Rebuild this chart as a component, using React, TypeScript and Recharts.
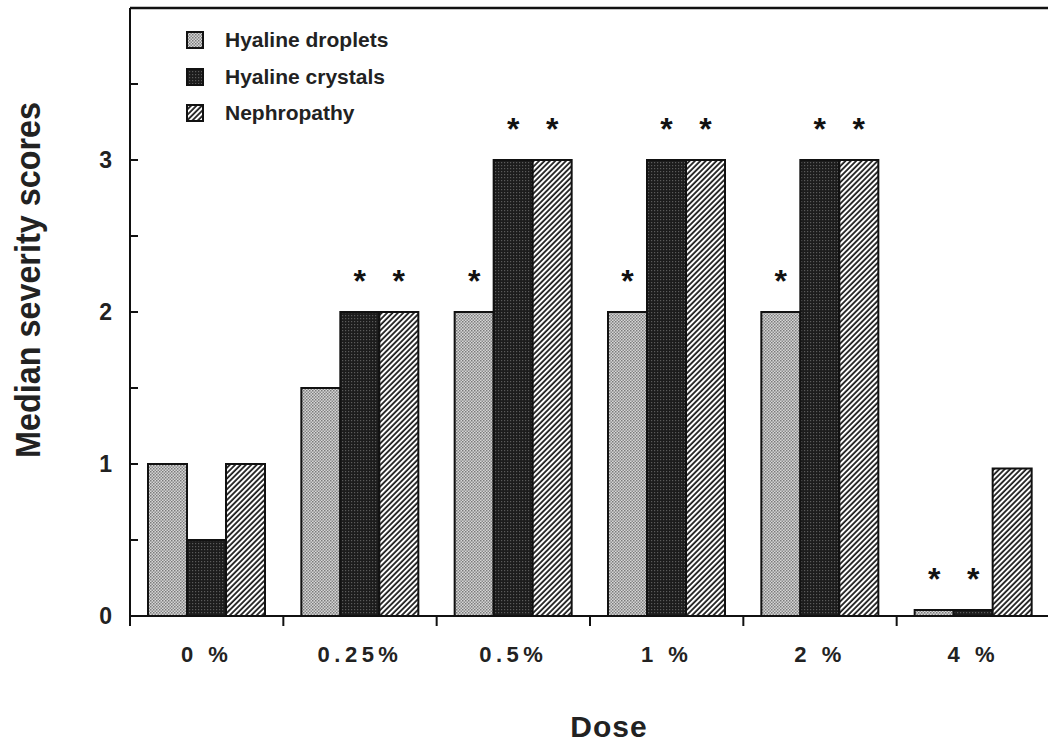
import React from "react";
import {
  Bar,
  BarChart,
  LabelList,
  ReferenceLine,
  XAxis,
  YAxis,
} from "recharts";

const doses = ["0 %", "0.25%", "0.5%", "1 %", "2 %", "4 %"];
const droplets = [1, 1.5, 2, 2, 2, 0.04];
const crystals = [0.5, 2, 3, 3, 3, 0.04];
const nephropathy = [1, 2, 3, 3, 3, 0.97];
const dropletsSig = [false, false, true, true, true, true];
const crystalsSig = [false, true, true, true, true, true];
const nephropathySig = [false, true, true, true, true, false];
const yTicks = [0, 0.5, 1, 1.5, 2, 2.5, 3, 3.5];

const series = [
  { key: "droplets", name: "Hyaline droplets", fill: "url(#pDroplets)", sig: "dropletsSig" },
  { key: "crystals", name: "Hyaline crystals", fill: "url(#pCrystals)", sig: "crystalsSig" },
  { key: "nephropathy", name: "Nephropathy", fill: "url(#pNephro)", sig: "nephropathySig" },
];

const data = doses.map((dose, i) => ({
  dose,
  droplets: droplets[i],
  crystals: crystals[i],
  nephropathy: nephropathy[i],
  dropletsSig: dropletsSig[i],
  crystalsSig: crystalsSig[i],
  nephropathySig: nephropathySig[i],
}));

const FONT = "'Liberation Sans', Arial, Helvetica, sans-serif";

function Star(props: any) {
  const { x, y, width, value } = props;
  if (!value) return null;
  return (
    <text
      x={x + width / 2}
      y={y - 20}
      textAnchor="middle"
      fontFamily={FONT}
      fontWeight="bold"
      fontSize={32}
      fill="#111"
    >
      *
    </text>
  );
}

function XTick(props: any) {
  const { x, y, payload, index, visibleTicksCount } = props;
  const half = payload.offset || 0;
  return (
    <g>
      <line x1={x - half} x2={x - half} y1={y - 8} y2={y + 2} stroke="#111" strokeWidth={2} />
      {index === visibleTicksCount - 1 && (
        <line x1={x + half} x2={x + half} y1={y - 8} y2={y + 2} stroke="#111" strokeWidth={2} />
      )}
      <text
        x={x}
        y={y + 38}
        textAnchor="middle"
        fontFamily={FONT}
        fontWeight="bold"
        fontSize={22}
        letterSpacing={4.5}
        fill="#222"
      >
        {payload.value}
      </text>
    </g>
  );
}

function YTick(props: any) {
  const { x, y, payload } = props;
  const major = Number.isInteger(payload.value);
  return (
    <g>
      <line x1={x + 2} x2={x + 10} y1={y} y2={y} stroke="#111" strokeWidth={2} />
      {major && (
        <text
          x={x - 16}
          y={y + 8}
          textAnchor="end"
          fontFamily={FONT}
          fontWeight="bold"
          fontSize={23}
          fill="#222"
        >
          {payload.value}
        </text>
      )}
    </g>
  );
}

function LegendBox() {
  return (
    <div
      style={{
        position: "absolute",
        left: 186,
        top: 22,
        fontFamily: FONT,
        fontWeight: "bold",
        fontSize: 21,
        color: "#222",
      }}
    >
      {series.map((s) => (
        <div key={s.key} style={{ display: "flex", alignItems: "center", height: 36.5 }}>
          <svg width={18} height={18} style={{ marginRight: 21 }}>
            <rect x={1} y={1} width={16} height={16} fill={s.fill} stroke="#111" strokeWidth={2} />
          </svg>
          <span>{s.name}</span>
        </div>
      ))}
    </div>
  );
}

export default function App() {
  return (
    <div
      style={{
        position: "fixed",
        left: 0,
        top: 0,
        width: 1048,
        height: 742,
        overflow: "hidden",
        background: "#fff",
      }}
    >
      <BarChart
        width={1060}
        height={742}
        data={data}
        margin={{ top: 8, right: 10, left: 70, bottom: 0 }}
        barGap={0}
      >
        <defs>
          <pattern id="pDroplets" width={3} height={3} patternUnits="userSpaceOnUse">
            <rect width={3} height={3} fill="#d6d6d6" />
            <rect width={1.5} height={1.5} fill="#7a7a7a" />
            <rect x={1.5} y={1.5} width={1.5} height={1.5} fill="#8a8a8a" />
          </pattern>
          <pattern id="pCrystals" width={3} height={3} patternUnits="userSpaceOnUse">
            <rect width={3} height={3} fill="#1c1c1c" />
            <rect width={1.2} height={1.2} fill="#5a5a5a" />
          </pattern>
          <pattern
            id="pNephro"
            width={3.8}
            height={3.8}
            patternUnits="userSpaceOnUse"
            patternTransform="rotate(45)"
          >
            <rect width={3.8} height={3.8} fill="#fff" />
            <line x1={1} x2={1} y1={0} y2={3.8} stroke="#111" strokeWidth={1.7} />
          </pattern>
        </defs>
        <XAxis
          dataKey="dose"
          height={126}
          axisLine={{ stroke: "#111", strokeWidth: 2 }}
          tickLine={false}
          tick={<XTick />}
          interval={0}
          label={{
            content: (p: any) => {
              const vb = p.viewBox;
              return (
                <text
                  x={vb.x + vb.width / 2 + 19}
                  y={vb.y + vb.height - 5}
                  textAnchor="middle"
                  fontFamily={FONT}
                  fontWeight="bold"
                  fontSize={30}
                  letterSpacing={1}
                  fill="#222"
                >
                  Dose
                </text>
              );
            },
          }}
        />
        <YAxis
          width={60}
          domain={[0, 4]}
          ticks={yTicks}
          interval={0}
          axisLine={{ stroke: "#111", strokeWidth: 2 }}
          tickLine={false}
          tick={<YTick />}
          tickSize={0}
          label={{
            content: (p: any) => {
              const vb = p.viewBox;
              const cx = vb.x - 30;
              const cy = vb.y + vb.height / 2 - 32;
              return (
                <text
                  x={cx}
                  y={cy}
                  transform={`rotate(-90, ${cx}, ${cy})`}
                  textAnchor="middle"
                  fontFamily={FONT}
                  fontWeight="bold"
                  fontSize={35}
                  textLength={356}
                  lengthAdjust="spacingAndGlyphs"
                  fill="#222"
                >
                  Median severity scores
                </text>
              );
            },
          }}
        />
        <ReferenceLine y={4} stroke="#111" strokeWidth={2.5} />
        {series.map((s) => (
          <Bar
            key={s.key}
            dataKey={s.key}
            name={s.name}
            fill={s.fill}
            stroke="#111"
            strokeWidth={2}
            barSize={39}
            isAnimationActive={false}
          >
            <LabelList dataKey={s.sig} content={<Star />} />
          </Bar>
        ))}
      </BarChart>
      <LegendBox />
    </div>
  );
}
